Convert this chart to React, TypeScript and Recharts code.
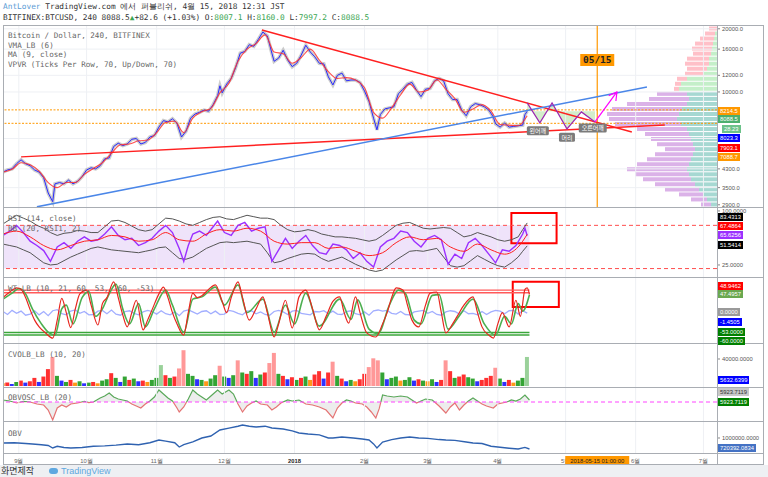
import React from 'react';
import {
  ComposedChart, BarChart, Bar, Line, Area, XAxis, YAxis,
  ReferenceLine, ReferenceArea, ReferenceDot, Cell,
} from 'recharts';

// days since 2017-08-25 (4h candles, sampled)
type P = [number, number];
const pts = (a: P[]) => a.map(([d, v]) => ({ d, v }));

const monthDays = [7, 37, 68, 98, 129, 160, 188, 219, 249, 263, 280, 310];
const monthLabels = ['9월', '10월', '11월', '12월', '2018', '2월', '3월', '4월', '5월', '2018-05-15 01:00:00', '6월', '7월'];
const markDay = 263;

const price: P[] = [
  [0, 4150], [2, 4250], [4, 4300], [6, 4550], [8, 4750], [10, 4550], [12, 4450], [14, 4250], [16, 4150],
  [18, 3900], [20, 3300], [22, 3000], [23, 3650], [25, 3700], [27, 3650], [29, 3800], [31, 3650], [33, 3750],
  [35, 3950], [37, 4250], [39, 4350], [41, 4300], [43, 4450], [45, 4800], [47, 4850], [49, 5500], [51, 5700],
  [53, 5550], [55, 5650], [57, 5950], [59, 6000], [61, 5650], [63, 5750], [65, 6100], [67, 6200], [69, 6800],
  [71, 7300], [73, 7200], [75, 7450], [77, 7100], [79, 6100], [81, 6500], [83, 7500], [85, 7850], [87, 8000],
  [89, 8200], [91, 8100], [93, 8700], [95, 9600], [96, 10700], [97, 9900], [99, 10900], [101, 11600],
  [103, 13100], [105, 15300], [107, 15600], [109, 16800], [111, 16500], [113, 17800], [115, 19300],
  [117, 18500], [119, 15300], [120, 14000], [122, 14500], [124, 15800], [126, 14200], [128, 13200],
  [130, 13700], [132, 15000], [134, 16700], [136, 15500], [138, 14700], [140, 13700], [142, 13600],
  [144, 11800], [146, 10800], [148, 12000], [150, 12300], [152, 11300], [154, 11400], [156, 11400],
  [158, 11100], [160, 10100], [162, 9000], [164, 7500], [165.5, 6600], [167, 7800], [169, 8300], [171, 8400],
  [173, 8500], [175, 9800], [177, 10300], [179, 10900], [181, 11100], [183, 10200], [185, 9500], [187, 10300],
  [189, 10400], [191, 11300], [193, 11600], [195, 11300], [197, 9800], [199, 9200], [201, 9200], [203, 8200],
  [205, 7700], [207, 8500], [209, 8800], [211, 8700], [213, 8500], [215, 8200], [217, 7600], [218, 7050],
  [220, 6800], [222, 7100], [224, 6800], [226, 6850], [228, 6900], [230, 6950], [231, 7800], [232, 8088.5],
];

const ma9: P[] = [
  [0, 4150], [4, 4280], [8, 4600], [12, 4500], [16, 4200], [20, 3700], [24, 3500], [28, 3700], [32, 3700],
  [36, 4050], [40, 4320], [44, 4600], [48, 5100], [52, 5600], [56, 5650], [60, 5850], [64, 5900], [68, 6400],
  [72, 7150], [76, 7250], [80, 6400], [84, 7500], [88, 8050], [92, 8350], [96, 9900], [100, 11000],
  [104, 14000], [108, 16000], [112, 17000], [116, 18700], [120, 15500], [124, 15200], [128, 13700],
  [132, 14600], [136, 16000], [140, 14200], [144, 12500], [148, 11600], [152, 11700], [156, 11400],
  [160, 10500], [164, 8000], [168, 7500], [172, 8400], [176, 9700], [180, 10900], [184, 10000], [188, 10200],
  [192, 11400], [196, 10300], [200, 9300], [204, 8000], [208, 8300], [212, 8700], [216, 8100], [220, 7000],
  [224, 6950], [228, 6900], [232, 7700],
];

// trend lines: [day, price]
const downTrend: P[] = [[114.6, 19740], [278.3, 6450]];
const lowTrend: P[] = [[8, 4905], [292.9, 6966]];
const blueTrend: P[] = [[15, 2835], [285, 10566]];
const hsPath: P[] = [[232, 8865], [237.6, 7120], [243, 8865], [249.6, 6667], [256, 8032], [262, 7198]];
const hsArrow: P[] = [[262, 7198], [271.7, 10000]];
const hsLabels: { d: number; v: number; t: string }[] = [
  { d: 236.7, v: 6530, t: '왼어깨' }, { d: 249.6, v: 6080, t: '머리' }, { d: 261, v: 6740, t: '오른어깨' },
];

// volume profile rows, top to bottom
const vpvrUp = [0, 2, 3, 4, 5, 6, 8, 8, 10, 14, 30, 36, 38, 30, 28, 30, 35, 38, 40, 36, 30, 28, 26, 24, 22, 24, 26, 28, 30, 28, 26, 22, 18, 14, 10, 6];
const vpvrDown = [8, 10, 14, 18, 20, 18, 22, 24, 20, 18, 10, 6, 5, 30, 40, 60, 70, 72, 68, 66, 50, 44, 40, 36, 30, 38, 44, 52, 60, 54, 48, 40, 34, 24, 16, 10];

const rsi: P[] = [
  [0, 66], [3, 72], [6, 80], [9, 70], [12, 58], [15, 52], [18, 45], [21, 30], [24, 50], [27, 56], [30, 48],
  [33, 58], [36, 64], [39, 58], [42, 60], [45, 68], [48, 78], [51, 66], [54, 60], [57, 62], [60, 52], [63, 56],
  [66, 62], [69, 72], [72, 80], [75, 70], [78, 48], [80, 30], [82, 52], [84, 68], [87, 72], [90, 66], [93, 78],
  [95, 86], [98, 70], [101, 66], [104, 80], [107, 84], [110, 72], [113, 76], [116, 78], [119, 30], [122, 46],
  [125, 62], [128, 48], [131, 58], [134, 66], [137, 52], [140, 42], [143, 40], [146, 54], [149, 52], [152, 46],
  [155, 34], [158, 42], [161, 30], [164, 22], [167, 50], [170, 58], [173, 62], [176, 72], [179, 70], [182, 58],
  [185, 50], [188, 62], [191, 66], [194, 60], [197, 26], [200, 40], [203, 34], [206, 56], [209, 62], [212, 52],
  [215, 40], [218, 28], [221, 46], [224, 44], [227, 52], [230, 68], [231, 76], [232, 65.6],
];
const bbBasis: P[] = [
  [0, 68], [6, 72], [12, 64], [18, 52], [24, 46], [30, 52], [36, 58], [42, 60], [48, 66], [54, 64], [60, 58],
  [66, 60], [72, 70], [78, 60], [84, 58], [90, 68], [96, 74], [102, 72], [108, 76], [114, 72], [120, 58],
  [126, 54], [132, 56], [138, 56], [144, 48], [150, 50], [156, 44], [162, 38], [168, 42], [174, 56], [180, 64],
  [186, 60], [192, 62], [198, 50], [204, 44], [210, 54], [216, 46], [222, 40], [228, 50], [232, 67.5],
];
const bbUpper: P[] = [
  [0, 82], [3, 88], [6, 94], [9, 90], [12, 86], [15, 80], [18, 76], [21, 70], [24, 66], [27, 69], [30, 70],
  [33, 73], [36, 72], [39, 70], [42, 70], [45, 78], [48, 86], [51, 87], [54, 84], [57, 79], [60, 74], [63, 72],
  [66, 74], [69, 82], [72, 90], [75, 89], [78, 86], [81, 82], [84, 80], [87, 84], [90, 88], [93, 91], [96, 92],
  [99, 89], [102, 88], [105, 91], [108, 94], [111, 92], [114, 90], [117, 90], [120, 88], [123, 80], [126, 74],
  [129, 71], [132, 72], [135, 74], [138, 72], [141, 68], [144, 66], [147, 64], [150, 64], [153, 63], [156, 62],
  [159, 60], [162, 58], [165, 60], [168, 66], [171, 73], [174, 80], [177, 83], [180, 84], [183, 80], [186, 76],
  [189, 75], [192, 76], [195, 77], [198, 76], [201, 70], [204, 64], [207, 66], [210, 70], [213, 67], [216, 64],
  [219, 60], [222, 58], [225, 60], [228, 64], [230, 74], [232, 83.4],
];
const bbLower: P[] = [
  [0, 54], [3, 52], [6, 50], [9, 46], [12, 42], [15, 35], [18, 28], [21, 25], [24, 26], [27, 31], [30, 36],
  [33, 40], [36, 44], [39, 48], [42, 50], [45, 48], [48, 46], [51, 45], [54, 44], [57, 43], [60, 42], [63, 44],
  [66, 46], [69, 49], [72, 50], [75, 42], [78, 34], [81, 33], [84, 36], [87, 42], [90, 48], [93, 52], [96, 56],
  [99, 57], [102, 56], [105, 57], [108, 58], [111, 56], [114, 54], [117, 42], [120, 28], [123, 30], [126, 34],
  [129, 37], [132, 40], [135, 41], [138, 40], [141, 34], [144, 30], [147, 33], [150, 36], [153, 31], [156, 26],
  [159, 22], [162, 18], [165, 16], [168, 18], [171, 25], [174, 32], [177, 38], [180, 44], [183, 45], [186, 44],
  [189, 46], [192, 48], [195, 36], [198, 24], [201, 22], [204, 24], [207, 31], [210, 38], [213, 33], [216, 28],
  [219, 24], [222, 22], [225, 28], [228, 36], [230, 44], [232, 51.5],
];

const wt1: P[] = [
  [0, 40], [3, 55], [6, 66], [8, 62], [10, 40], [12, 8], [14, -20], [16, -38], [19, -55], [22, -68], [24, -20],
  [26, 38], [28, 0], [30, -40], [32, 10], [34, 50], [37, 60], [39, 20], [42, -33], [44, 24], [46, 40], [49, 82],
  [51, 40], [53, -6], [55, -38], [57, 0], [59, 33], [62, -46], [64, -20], [66, 8], [69, 50], [71, 68], [73, 40],
  [75, 0], [77, -30], [80, -60], [82, 0], [84, 52], [86, 40], [88, 45], [91, 62], [94, 74], [97, 30], [99, 0],
  [101, 40], [104, 82], [106, 40], [109, -20], [112, 10], [115, 42], [117, 0], [120, -65], [122, -30], [125, 33],
  [128, -41], [131, 42], [134, 60], [137, 10], [140, -46], [143, -10], [146, 30], [149, 42], [151, 0], [153, -28],
  [156, 42], [158, 0], [161, -54], [165, -65], [168, -30], [170, 0], [172, 40], [174, 66], [177, 60], [179, 20],
  [181, -20], [184, -38], [187, 20], [189, 52], [192, 55], [194, 0], [196, -54], [199, -30], [201, -10], [204, 20],
  [208, 42], [210, 0], [212, -38], [215, -60], [217, -68], [219, -30], [221, 0], [224, -38], [227, 33], [229, -10],
  [231, 62], [232, 66], [233, 48.9],
];
const wt2: P[] = [
  [0, 36], [4, 52], [7, 64], [10, 50], [13, 10], [17, -30], [20, -52], [23, -60], [26, 10], [28, 20], [31, -30],
  [35, 40], [38, 56], [41, -10], [44, 10], [47, 50], [50, 76], [53, 10], [56, -30], [60, 24], [63, -38], [67, 10],
  [72, 60], [75, 20], [80, -52], [84, 36], [88, 42], [94, 68], [98, 20], [104, 74], [108, 0], [115, 36],
  [120, -52], [125, 20], [129, -30], [134, 52], [140, -36], [149, 36], [154, -18], [157, 34], [162, -44],
  [166, -56], [171, 20], [175, 60], [178, 52], [182, -20], [185, -30], [190, 46], [193, 48], [197, -44],
  [202, -8], [208, 36], [213, -30], [218, -60], [222, -10], [225, -30], [228, 24], [230, 4], [233, 47.5],
];
const wtDiff: P[] = [
  [0, 3], [2, -5], [4, 6], [6, -2], [8, 4], [10, -7], [12, -4], [14, 5], [16, -6], [18, 3], [20, -8], [22, 5],
  [24, 8], [26, -3], [28, -6], [30, 4], [32, 7], [34, -2], [36, 3], [38, -6], [40, -5], [42, 4], [44, 6], [46, -3],
  [48, 7], [50, -4], [52, -7], [54, 3], [56, 5], [58, -2], [60, -6], [62, 2], [64, 6], [66, 3], [68, -4], [70, 5],
  [72, -3], [74, -6], [76, 2], [78, -8], [80, 4], [82, 7], [84, 2], [86, -4], [88, 3], [90, 5], [92, -3], [94, 4],
  [96, -5], [98, -4], [100, 6], [102, 3], [104, -2], [106, -6], [108, 4], [110, 5], [112, -3], [114, 2], [116, -5],
  [118, -7], [120, 3], [122, 6], [124, 2], [126, -5], [128, 4], [130, 6], [132, -2], [134, -4], [136, -6],
  [138, 3], [140, 2], [142, 5], [144, -3], [146, 4], [148, -4], [150, -5], [152, 3], [154, 5], [156, -3],
  [158, -6], [160, 2], [162, -7], [164, 5], [166, 7], [168, 4], [170, 6], [172, -2], [174, -4], [176, 3],
  [178, -5], [180, -6], [182, 2], [184, 4], [186, 6], [188, -2], [190, 3], [192, -5], [194, -7], [196, 2],
  [198, 5], [200, 3], [202, -4], [204, 5], [206, -3], [208, -2], [210, -6], [212, 3], [214, -5], [216, 2],
  [218, 6], [220, 4], [222, -3], [224, 5], [226, 6], [228, -4], [230, 5], [232, -1.45],
];

// day, volume (thousands), colour code
const cvol: [number, number, string][] = [
  [0, 4, 'o'], [2, 5, 'r'], [4, 3, 'b'], [6, 6, 'g'], [8, 8, 'r'], [10, 5, 'b'], [12, 7, 'r'], [14, 12, 'r'],
  [16, 6, 'b'], [18, 14, 'r'], [20, 25, 'r'], [22, 43, 'r'], [24, 15, 'g'], [26, 8, 'b'], [28, 6, 'g'],
  [30, 9, 'r'], [32, 5, 'o'], [34, 7, 'g'], [36, 4, 'b'], [38, 5, 'g'], [40, 6, 'r'], [42, 4, 'o'], [44, 8, 'g'],
  [46, 10, 'g'], [48, 19, 'r'], [50, 12, 'g'], [52, 6, 'b'], [54, 14, 'g'], [56, 9, 'r'], [58, 11, 'g'],
  [60, 7, 'b'], [62, 8, 'r'], [64, 6, 'o'], [66, 9, 'g'], [68, 12, 'g'], [70, 31, 'g'], [72, 16, 'r'],
  [74, 12, 'g'], [76, 14, 'r'], [78, 26, 'r'], [80, 53, 'r'], [82, 18, 'g'], [84, 15, 'g'], [86, 10, 'b'],
  [88, 9, 'g'], [90, 7, 'o'], [92, 11, 'g'], [94, 16, 'g'], [96, 30, 'r'], [98, 14, 'g'], [100, 12, 'b'],
  [102, 16, 'g'], [104, 38, 'r'], [106, 20, 'g'], [108, 18, 'r'], [110, 22, 'g'], [112, 12, 'b'], [114, 17, 'g'],
  [116, 20, 'r'], [118, 34, 'r'], [120, 49, 'r'], [122, 18, 'g'], [124, 15, 'r'], [126, 10, 'b'], [128, 13, 'r'],
  [130, 9, 'g'], [132, 12, 'r'], [134, 14, 'g'], [136, 9, 'o'], [138, 17, 'r'], [140, 22, 'r'], [142, 11, 'b'],
  [144, 20, 'r'], [146, 36, 'r'], [148, 15, 'g'], [150, 11, 'r'], [152, 7, 'b'], [154, 9, 'g'], [156, 7, 'o'],
  [158, 10, 'r'], [160, 18, 'r'], [162, 28, 'r'], [164, 41, 'r'], [166, 38, 'r'], [168, 20, 'g'], [170, 10, 'b'],
  [172, 12, 'g'], [174, 14, 'g'], [176, 8, 'o'], [178, 9, 'g'], [180, 13, 'g'], [182, 8, 'b'], [184, 10, 'r'],
  [186, 8, 'g'], [188, 7, 'o'], [190, 10, 'g'], [192, 6, 'b'], [194, 9, 'r'], [196, 38, 'r'], [198, 22, 'r'],
  [200, 12, 'g'], [202, 14, 'r'], [204, 17, 'r'], [206, 13, 'g'], [208, 11, 'g'], [210, 7, 'b'], [212, 9, 'r'],
  [214, 12, 'r'], [216, 15, 'r'], [218, 27, 'r'], [220, 11, 'g'], [222, 6, 'b'], [224, 9, 'r'], [226, 5, 'o'],
  [228, 8, 'g'], [230, 12, 'g'], [232, 43, 'g'],
];
const cvolColors: Record<string, string> = { r: '#ff1a1a', g: '#1e9a1e', b: '#1a1aff', o: '#ff8c00' };

const obvOsc: P[] = [
  [0, 6000], [3, 3000], [6, -3000], [9, 2000], [12, 0], [15, -6000], [18, -9000], [20, -24000], [22, -54000],
  [24, -18000], [26, -9000], [28, -15000], [30, -6000], [33, -3000], [36, 2000], [38, -2000], [40, 0],
  [43, 12000], [45, 18000], [47, 27000], [49, 15000], [51, 9000], [53, 6000], [55, 3000], [57, -6000],
  [59, -12000], [61, -18000], [63, -6000], [65, 3000], [67, 15000], [69, 36000], [71, 24000], [73, 12000],
  [75, 3000], [77, -18000], [78, -30000], [80, -15000], [82, 9000], [84, 36000], [86, 24000], [88, 15000],
  [90, 6000], [92, 18000], [95, 36000], [97, 24000], [100, 36000], [102, 24000], [104, -6000], [106, -30000],
  [108, -12000], [110, -3000], [112, 3000], [114, -6000], [117, -9000], [119, -24000], [121, -15000],
  [123, -3000], [126, 6000], [128, 3000], [131, 6000], [134, -6000], [137, -9000], [140, -15000], [143, -24000],
  [146, -48000], [148, -18000], [150, -3000], [152, 6000], [154, 3000], [156, -3000], [159, -6000],
  [161, -15000], [163, -30000], [165, -48000], [166.5, -20000], [168, 21000], [170, 18000], [173, 15000],
  [176, 18000], [179, 15000], [181, 6000], [183, -3000], [185, 3000], [187, 9000], [190, 6000], [193, -12000],
  [196, -33000], [198, -15000], [200, -3000], [202, -24000], [204, -9000], [206, 3000], [208, 12000],
  [210, 3000], [212, -6000], [214, -12000], [217, -18000], [219, -6000], [221, -3000], [223, 0], [225, 6000],
  [227, 3000], [229, 9000], [231, 21000], [233, 5924],
];

const obv: P[] = [
  [0, 873000], [5, 880000], [10, 860000], [13, 847000], [17, 830000], [20, 810000], [22, 746000], [24, 790000],
  [27, 760000], [30, 746000], [35, 760000], [40, 790000], [45, 800000], [50, 820000], [55, 847000], [60, 830000],
  [65, 880000], [69, 949000], [72, 920000], [76, 880000], [78, 771000], [80, 830000], [84, 900000],
  [88, 1000000], [92, 1050000], [96, 1203000], [100, 1250000], [104, 1300000], [106, 1330000], [109, 1300000],
  [112, 1280000], [116, 1300000], [119, 1254000], [124, 1230000], [128, 1180000], [131, 1127000],
  [135, 1100000], [140, 1080000], [144, 1000000], [146, 1000000], [150, 1025000], [155, 1000000],
  [159, 975000], [162, 949000], [164, 850000], [165.5, 746000], [168, 898000], [172, 960000], [176, 1000000],
  [180, 1025000], [184, 1000000], [188, 990000], [193, 960000], [196, 949000], [200, 940000], [205, 900000],
  [208, 873000], [212, 860000], [216, 790000], [219, 771000], [224, 740000], [228, 720000], [231, 760000],
  [233, 720392],
];

type Tag = { t: string; y: number; bg: string; fg?: string; x?: number };
const tags: Tag[] = [
  { t: '8214.5', y: 110.7, bg: '#ff9800' }, { t: '8088.5', y: 119.3, bg: '#4caf6e' },
  { t: '28.23', y: 128.7, bg: '#6cc28a', x: 722 }, { t: '8023.3', y: 138, bg: '#0000ff' },
  { t: '7903.1', y: 147.7, bg: '#ff0000' }, { t: '7088.7', y: 156.7, bg: '#ff9800' },
  { t: '83.4313', y: 217.3, bg: '#000000' }, { t: '67.4864', y: 225.7, bg: '#ff0000' },
  { t: '65.6256', y: 235, bg: '#9b30ff' }, { t: '51.5414', y: 245, bg: '#000000' },
  { t: '48.9462', y: 286, bg: '#ff0000' }, { t: '47.4957', y: 294, bg: '#6aa84f' },
  { t: '0.0000', y: 312, bg: '#9a9a9a' }, { t: '-1.4505', y: 321.7, bg: '#0000ff' },
  { t: '-53.0000', y: 331.7, bg: '#008000' }, { t: '-60.0000', y: 341, bg: '#008000' },
  { t: '5632.6399', y: 380, bg: '#0000ff' }, { t: '5923.7119', y: 391.7, bg: '#c8c8c8', fg: '#333' },
  { t: '5923.7119', y: 401.7, bg: '#008000' }, { t: '720392.0834', y: 448.3, bg: '#4472c4' },
];

const W = 768;
const PLOT_L = 3;
const AXIS_W = 51;
const MARGIN = { top: 0, right: 0, bottom: 0, left: PLOT_L };
const GRID = '#eef0f4';
const mono = '"DejaVu Sans Mono", monospace';
const sans = '"Liberation Sans", Arial, sans-serif';
const axisTick = { fontSize: 5.8, fill: '#555', fontFamily: sans };
const gridMonths = monthDays.filter((d) => d !== markDay);

const vGrid = () => gridMonths.map((d) => (
  <ReferenceLine key={'g' + d} x={d} stroke={GRID} strokeWidth={1} />
));

const RightAxis = (p: { domain: [number, number]; ticks?: number[]; digits: number; scale?: 'log' | 'linear' }) => (
  <YAxis orientation="right" width={AXIS_W} domain={p.domain} ticks={p.ticks ?? []} scale={p.scale ?? 'linear'}
    allowDataOverflow axisLine={false} tickSize={3} tickMargin={2} interval={0}
    tickLine={{ stroke: '#888' }} tick={axisTick} tickFormatter={(v: number) => v.toFixed(p.digits)} />
);

const HiddenX = () => <XAxis type="number" dataKey="d" domain={[0, 316]} hide allowDataOverflow />;

const AxisTick = (p: any) => {
  const d = p.payload.value;
  const i = monthDays.indexOf(d);
  if (d === markDay) {
    return (
      <g>
        <rect x={p.x - 32} y={p.y + 1} width={64} height={9} fill="#ff9800" />
        <text x={p.x} y={p.y + 8} textAnchor="middle" fontSize={5.8} fontFamily={sans} fill="#222">{monthLabels[i]}</text>
      </g>
    );
  }
  const isYear = monthLabels[i] === '2018';
  return (
    <text x={p.x} y={p.y + 8} textAnchor="middle" fontSize={5.8} fontFamily={sans}
      fill={isYear ? '#222' : '#666'} fontWeight={isYear ? 700 : 400}>{monthLabels[i]}</text>
  );
};

const Legend = ({ lines, top }: { lines: string[]; top: number }) => (
  <div style={{ position: 'absolute', left: 8, top, fontFamily: mono, fontSize: 7.6, lineHeight: '9.7px', color: '#666', whiteSpace: 'pre' }}>
    {lines.map((l) => <div key={l}>{l}</div>)}
  </div>
);

const arrowHead = (p: any) => {
  if (p.index !== 1) return <g key={'a' + p.index} />;
  return (
    <path key="ahead" d={`M${p.cx - 8.2},${p.cy + 3.7} L${p.cx},${p.cy} L${p.cx - 1},${p.cy + 9}`}
      stroke="#ff00ff" strokeWidth={1.2} fill="none" />
  );
};

const hsShape = (t: string) => (p: any) => {
  const w = t.length * 6 + 4;
  return (
    <g>
      <rect x={p.cx - w / 2} y={p.cy - 4.5} width={w} height={9} rx={1.5} fill="#7b7b7b" />
      <text x={p.cx} y={p.cy + 2.3} textAnchor="middle" fontSize={6} fill="#fff" fontFamily='"Noto Sans CJK KR", sans-serif'>{t}</text>
    </g>
  );
};

const Frame = () => {
  const hs = [25, 207, 277, 343, 387, 421, 453, 464];
  const line = '#a9adb3';
  return (
    <>
      {hs.map((y) => (
        <div key={'h' + y} style={{ position: 'absolute', left: 3, top: y, width: 760, height: 1, background: line }} />
      ))}
      {[3, 717, 763].map((x) => (
        <div key={'v' + x} style={{ position: 'absolute', left: x, top: 25, width: 1, height: 440, background: line }} />
      ))}
    </>
  );
};

const App: React.FC = () => {
  const vpvr = vpvrUp.map((u, i) => ({ row: i, up: u, down: vpvrDown[i] }));
  return (
    <div style={{ position: 'fixed', left: 0, top: 0, width: W, height: 477, background: '#fff', overflow: 'hidden', fontFamily: sans }}>
      {/* header */}
      <div style={{ position: 'absolute', left: 3, top: 1, fontFamily: mono, fontSize: 7.8, lineHeight: '11px', color: '#333', whiteSpace: 'pre' }}>
        <div><span style={{ color: '#5b9bd5' }}>AntLover</span> TradingView.com 에서 퍼블리쉬, 4월 15, 2018 12:31 JST</div>
        <div>
          BITFINEX:BTCUSD, 240 8088.5<span style={{ color: '#3aa652' }}>▲</span>+82.6 (+1.03%) O:<span style={{ color: '#3aa652' }}>8007.1</span> H:<span style={{ color: '#3aa652' }}>8160.0</span> L:<span style={{ color: '#3aa652' }}>7997.2</span> C:<span style={{ color: '#3aa652' }}>8088.5</span>
        </div>
      </div>

      {/* volume profile */}
      <div style={{ position: 'absolute', left: 600, top: 26 }}>
        <BarChart width={117} height={181} data={vpvr} layout="vertical" margin={{ top: 0, right: 0, bottom: 0, left: 0 }} barCategoryGap={0.5}>
          <XAxis type="number" domain={[0, 117]} reversed hide />
          <YAxis type="category" dataKey="row" hide />
          <Bar dataKey="up" stackId="p" isAnimationActive={false}>
            {vpvr.map((r) => <Cell key={'u' + r.row} fill={r.row < 13 ? '#c4efc9' : '#a6d8d2'} />)}
          </Bar>
          <Bar dataKey="down" stackId="p" isAnimationActive={false}>
            {vpvr.map((r) => <Cell key={'d' + r.row} fill={r.row < 13 ? '#ffc0c8' : '#dbb2e8'} />)}
          </Bar>
        </BarChart>
      </div>

      {/* main price panel */}
      <div style={{ position: 'absolute', left: 0, top: 26 }}>
        <ComposedChart width={W} height={181} margin={MARGIN}>
          <HiddenX />
          <RightAxis domain={[2830, 20620]} scale="log" ticks={[20000, 16000, 12000, 10000, 4300, 3500, 2900]} digits={1} />
          {vGrid()}
          {[20000, 16000, 12000, 10000, 6000, 4300, 3500].map((v) => (
            <ReferenceLine key={'hg' + v} y={v} stroke={GRID} />
          ))}
          <ReferenceLine y={8214.5} stroke="#ff9800" strokeDasharray="2 1.5" />
          <ReferenceLine y={7088.7} stroke="#ff9800" strokeDasharray="2 1.5" />
          <ReferenceLine x={markDay} stroke="#ff9800" strokeWidth={1.2} />
          <Area data={pts(hsPath)} dataKey="v" baseValue={8100} type="linear" stroke="none" fill="#b5e3a8" fillOpacity={0.6} isAnimationActive={false} />
          <Line data={pts(price)} dataKey="v" type="linear" stroke="#9a9a9a" strokeWidth={3.5} strokeOpacity={0.5} dot={false} isAnimationActive={false} />
          <Line data={pts(price)} dataKey="v" type="linear" stroke="#2a2aff" strokeWidth={1} dot={false} isAnimationActive={false} />
          <Line data={pts(ma9)} dataKey="v" type="monotone" stroke="#ff3030" strokeWidth={1.1} strokeOpacity={0.85} dot={false} isAnimationActive={false} />
          <ReferenceLine segment={[{ x: downTrend[0][0], y: downTrend[0][1] }, { x: downTrend[1][0], y: downTrend[1][1] }]} stroke="#ff2020" strokeWidth={1.5} />
          <ReferenceLine segment={[{ x: lowTrend[0][0], y: lowTrend[0][1] }, { x: lowTrend[1][0], y: lowTrend[1][1] }]} stroke="#ff2020" strokeWidth={1.5} />
          <ReferenceLine segment={[{ x: blueTrend[0][0], y: blueTrend[0][1] }, { x: blueTrend[1][0], y: blueTrend[1][1] }]} stroke="#4a86e8" strokeWidth={1.5} />
          <Line data={pts(hsPath)} dataKey="v" type="linear" stroke="#9c27b0" strokeWidth={1.2} dot={false} isAnimationActive={false} />
          <Line data={pts(hsArrow)} dataKey="v" type="linear" stroke="#ff00ff" strokeWidth={1.2} dot={arrowHead} isAnimationActive={false} />
          {hsLabels.map((l) => (
            <ReferenceDot key={l.t} x={l.d} y={l.v} r={0} shape={hsShape(l.t)} />
          ))}
          <ReferenceDot x={markDay} y={14200} r={0} shape={(p: any) => (
            <g>
              <rect x={p.cx - 17} y={p.cy - 6} width={34} height={12} fill="#ff9800" />
              <text x={p.cx} y={p.cy + 3.5} textAnchor="middle" fontSize={9.5} fontWeight={700} fontFamily={mono} fill="#222">05/15</text>
            </g>
          )} />
        </ComposedChart>
      </div>
      <Legend top={31} lines={['Bitcoin / Dollar, 240, BITFINEX', 'VMA_LB (6)', 'MA (9, close)', 'VPVR (Ticks Per Row, 70, Up/Down, 70)']} />

      {/* RSI panel */}
      <div style={{ position: 'absolute', left: 0, top: 208 }}>
        <ComposedChart width={W} height={69} margin={MARGIN}>
          <HiddenX />
          <RightAxis domain={[8.3, 104.1]} ticks={[100, 25]} digits={4} />
          {vGrid()}
          <ReferenceArea x1={0} x2={233} y1={20} y2={80} fill="#e9d9f8" fillOpacity={0.75} stroke="none" />
          <ReferenceLine y={80} stroke="#ff4d4d" strokeDasharray="4 3" />
          <ReferenceLine y={20} stroke="#ff4d4d" strokeDasharray="4 3" />
          <Line data={pts(bbUpper)} dataKey="v" type="linear" stroke="#555" strokeWidth={1} dot={false} isAnimationActive={false} />
          <Line data={pts(bbLower)} dataKey="v" type="linear" stroke="#555" strokeWidth={1} dot={false} isAnimationActive={false} />
          <Line data={pts(rsi)} dataKey="v" type="linear" stroke="#9b30ff" strokeWidth={1.4} dot={false} isAnimationActive={false} />
          <Line data={pts(bbBasis)} dataKey="v" type="monotone" stroke="#ff2020" strokeWidth={1} dot={false} isAnimationActive={false} />
          <ReferenceArea x1={225} x2={245} y1={55} y2={97} fillOpacity={0} stroke="#ff0000" strokeWidth={2} />
        </ComposedChart>
      </div>
      <Legend top={214} lines={['RSI (14, close)', 'BB (20, RSI1, 2)']} />

      {/* WT panel */}
      <div style={{ position: 'absolute', left: 0, top: 278 }}>
        <ComposedChart width={W} height={65} margin={MARGIN}>
          <HiddenX />
          <RightAxis domain={[-81, 92.3]} digits={4} />
          {vGrid()}
          {[60, 53].map((v) => (
            <ReferenceLine key={'r' + v} segment={[{ x: 0, y: v }, { x: 233, y: v }]} stroke="#ff5a5a" strokeWidth={1.3} />
          ))}
          {[-53, -60].map((v) => (
            <ReferenceLine key={'gr' + v} segment={[{ x: 0, y: v }, { x: 233, y: v }]} stroke="#3aa63a" strokeWidth={1.5} />
          ))}
          <Line data={pts(wtDiff)} dataKey="v" type="linear" stroke="#7b8cff" strokeOpacity={0.7} strokeWidth={1.3} dot={false} isAnimationActive={false} />
          <Line data={pts(wt2)} dataKey="v" type="monotone" stroke="#4caf50" strokeWidth={1.6} dot={false} isAnimationActive={false} />
          <Line data={pts(wt1)} dataKey="v" type="monotone" stroke="#e8261e" strokeWidth={1.2} dot={false} isAnimationActive={false} />
          <ReferenceArea x1={225.6} x2={246} y1={15} y2={82} fillOpacity={0} stroke="#ff0000" strokeWidth={2} />
        </ComposedChart>
      </div>
      <Legend top={284} lines={['WT_LB (10, 21, 60, 53, -60, -53)']} />

      {/* CVOL panel */}
      <div style={{ position: 'absolute', left: 0, top: 344 }}>
        <BarChart width={W} height={43} margin={MARGIN} data={cvol.map(([d, v, c]) => ({ d, v: v * 1000, c }))} barGap={0}>
          <HiddenX />
          <RightAxis domain={[-1480, 62200]} ticks={[40000]} digits={4} />
          {vGrid()}
          <Bar dataKey="v" barSize={4} isAnimationActive={false}>
            {cvol.map(([d, v, c]) => <Cell key={'c' + d} fill={cvolColors[c]} fillOpacity={v > 25 ? 0.45 : 0.9} />)}
          </Bar>
        </BarChart>
      </div>
      <Legend top={350} lines={['CVOLB_LB (10, 20)']} />

      {/* OBV oscillator panel */}
      <div style={{ position: 'absolute', left: 0, top: 388 }}>
        <ComposedChart width={W} height={33} margin={MARGIN}>
          <defs>
            <linearGradient id="oscSplit" x1="0" y1="0" x2="0" y2="33" gradientUnits="userSpaceOnUse">
              <stop offset="0.424" stopColor="#5aa85a" />
              <stop offset="0.424" stopColor="#e57373" />
            </linearGradient>
          </defs>
          <HiddenX />
          <RightAxis domain={[-57000, 42000]} digits={4} />
          {vGrid()}
          <Area data={pts(obvOsc)} dataKey="v" baseValue={0} type="linear" stroke="url(#oscSplit)" strokeWidth={1.2}
            fill="#cccccc" fillOpacity={0.35} isAnimationActive={false} />
          <ReferenceLine y={0} stroke="#ff44ff" strokeDasharray="4 3" />
        </ComposedChart>
      </div>
      <Legend top={393} lines={['OBVOSC_LB (20)']} />

      {/* OBV panel + time axis */}
      <div style={{ position: 'absolute', left: 0, top: 422 }}>
        <ComposedChart width={W} height={42} margin={MARGIN}>
          <XAxis type="number" dataKey="d" domain={[0, 316]} ticks={monthDays} interval={0} height={11}
            axisLine={false} tickLine={false} tickSize={0} tick={<AxisTick />} allowDataOverflow />
          <RightAxis domain={[618700, 1406700]} ticks={[1000000]} digits={4} />
          {vGrid()}
          <Line data={pts(obv)} dataKey="v" type="linear" stroke="#2f62b0" strokeWidth={1.4} dot={false} isAnimationActive={false} />
        </ComposedChart>
      </div>
      <Legend top={429} lines={['OBV']} />

      <Frame />

      {tags.map((t, i) => (
        <div key={'t' + i} style={{
          position: 'absolute', left: t.x ?? 718, top: t.y - 4, height: 8, lineHeight: '8px', padding: '0 2px',
          background: t.bg, color: t.fg ?? '#fff', fontSize: 5.8, fontFamily: sans,
        }}>{t.t}</div>
      ))}

      {/* footer */}
      <div style={{ position: 'absolute', left: 0, top: 465, width: W, height: 12, background: '#eef0f3' }} />
      <div style={{ position: 'absolute', left: 1, top: 465, fontSize: 9, lineHeight: '12px', color: '#333', fontFamily: '"Noto Sans CJK KR", sans-serif' }}>화면제작</div>
      <div style={{ position: 'absolute', left: 49, top: 468, width: 9, height: 6, background: '#5fa8e0', borderRadius: 3 }} />
      <div style={{ position: 'absolute', left: 61, top: 465, fontSize: 9, lineHeight: '12px', color: '#5fa8e0', fontFamily: sans }}>TradingView</div>
    </div>
  );
};

export default App;
